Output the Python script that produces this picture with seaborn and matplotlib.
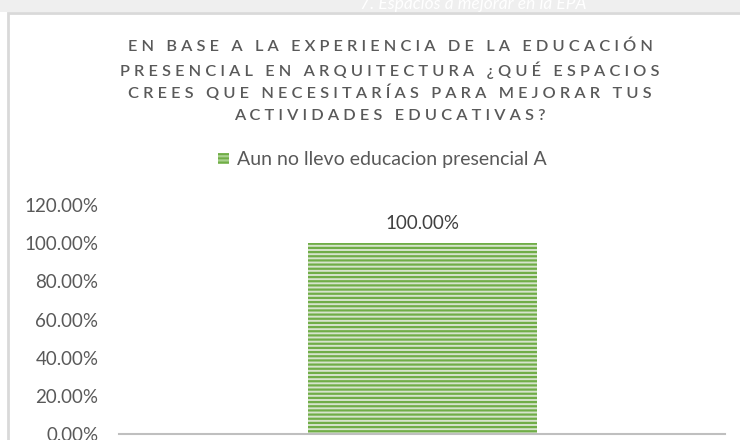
import matplotlib
matplotlib.use("Agg")
import matplotlib.pyplot as plt
from matplotlib.patches import Rectangle, Patch
from matplotlib.ticker import PercentFormatter
import pandas as pd
import seaborn as sns

# data
categorias = [""]
valores = [1.00]
serie = "Aun no llevo educacion presencial A"
titulo = [
    "EN BASE A LA EXPERIENCIA DE LA EDUCACIÓN",
    "PRESENCIAL EN ARQUITECTURA ¿QUÉ ESPACIOS",
    "CREES QUE NECESITARÍAS PARA MEJORAR TUS",
    "ACTIVIDADES EDUCATIVAS?",
]
marca_agua = "7. Espacios a mejorar en la EPA"
yticks = [0, 0.2, 0.4, 0.6, 0.8, 1.0, 1.2]

sns.set_style("white")
plt.rcParams["font.family"] = ["Lato", "DejaVu Sans"]
plt.rcParams["hatch.linewidth"] = 1.6

GRIS = "#595959"
VERDE = "#70AD47"

df = pd.DataFrame({"categoria": categorias, "valor": valores})

fig = plt.figure(figsize=(7.4, 4.4), dpi=100)

# background strip, watermark and chart border (behind the axes)
fig.patches.append(Rectangle((0.0, 0.972), 1.0, 0.03, transform=fig.transFigure,
                             facecolor="#EFEFEF", edgecolor="none", zorder=-2))
fig.patches.append(Rectangle((0.0108, -0.05), 1.2, 1.0205, transform=fig.transFigure,
                             facecolor="white", edgecolor="#D9D9D9", lw=2, zorder=-1))
fig.text(0.64, 0.99, marca_agua, ha="center", va="center", fontsize=12.5,
         style="italic", color="white", zorder=-1.5)

ax = fig.add_axes([0.161, 0.0136, 0.819, 0.52])
ax.patch.set_alpha(0)

sns.barplot(data=df, x="categoria", y="valor", ax=ax, width=0.378,
            color="#D5E8C8", linewidth=0)
for p in ax.patches:
    p.set_hatch("----")
    p.set_edgecolor(VERDE)
    p.set_linewidth(0)

ax.set_xlim(-0.5, 0.5)
ax.set_ylim(0, 1.2)
ax.set_yticks(yticks)
ax.yaxis.set_major_formatter(PercentFormatter(1.0, decimals=2))
ax.set_xticks([])
ax.set_xlabel("")
ax.set_ylabel("")
ax.tick_params(axis="y", length=0, pad=15, labelsize=13.5, labelcolor=GRIS)
for s in ["top", "right", "left"]:
    ax.spines[s].set_visible(False)
ax.spines["bottom"].set_color("#BFBFBF")
ax.spines["bottom"].set_linewidth(1.5)

for p, v in zip(ax.patches, valores):
    ax.annotate(f"{v * 100:.2f}%", (p.get_x() + p.get_width() / 2, p.get_height()),
                xytext=(0, 8), textcoords="offset points", ha="center",
                va="bottom", fontsize=13.5, color="#404040")

def espaciar(linea):
    return "   ".join(" ".join(pal) for pal in linea.split(" "))

for i, linea in enumerate(titulo):
    fig.text(0.527, 1 - (47 + 23 * i) / 440, espaciar(linea), ha="center",
             va="center", fontsize=11.8, color=GRIS, fontweight="semibold")

ax.legend(handles=[Patch(facecolor=VERDE, edgecolor="#A9D18E", hatch="----", lw=0)],
          labels=[serie], loc="center", bbox_to_anchor=(0.517, 1 - 160 / 440),
          bbox_transform=fig.transFigure, frameon=False, fontsize=14,
          labelcolor=GRIS, handlelength=0.55, handleheight=0.55, handletextpad=0.4)

fig.savefig("out.png", dpi=100)
